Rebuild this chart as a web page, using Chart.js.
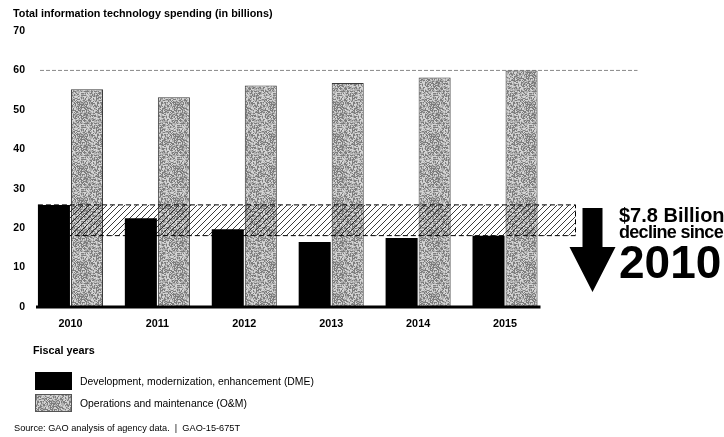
<!DOCTYPE html>
<html>
<head>
<meta charset="utf-8">
<script src="https://cdn.jsdelivr.net/npm/chart.js@4.4.1/dist/chart.umd.min.js"></script>
<style>
  body { margin: 0; background: #fff; font-family: "Liberation Sans", Arial, sans-serif; }
  #wrap { position: relative; width: 724px; height: 437px; overflow: hidden; }
  #c { position: absolute; left: 0; top: 0; }
  .t { position: absolute; white-space: nowrap; color: #000; line-height: 1; }
  .b { font-weight: bold; }
  .box { position: absolute; left: 35px; width: 37px; height: 18px; }
</style>
</head>
<body>
<div id="wrap">
  <canvas id="c" width="724" height="437"></canvas>
  <div class="t b" style="left:13px;top:8px;font-size:10.8px">Total information technology spending (in billions)</div>

  <div class="t b" style="left:619px;top:205px;font-size:20px">$7.8 Billion</div>
  <div class="t b" style="left:619px;top:223px;font-size:18px;letter-spacing:-0.7px">decline since</div>
  <div class="t b" style="left:619px;top:239px;font-size:46px;letter-spacing:0">2010</div>

  <div class="t b" style="left:33px;top:345px;font-size:10.8px">Fiscal years</div>
  <div class="box" id="box1" style="top:372px;background:#000"></div>
  <div class="t" style="left:80px;top:377px;font-size:10.4px">Development, modernization, enhancement (DME)</div>
  <div class="box" id="box2" style="top:394px;border:1px solid #555;box-sizing:border-box"></div>
  <div class="t" style="left:80px;top:399px;font-size:10.4px">Operations and maintenance (O&amp;M)</div>

  <div class="t" style="left:14px;top:424px;font-size:9.2px">Source: GAO analysis of agency data.&nbsp; |&nbsp; GAO-15-675T</div>
</div>
<script>
const years = ['2010', '2011', '2012', '2013', '2014', '2015'];
const dme = [25.9, 22.5, 19.7, 16.5, 17.5, 18.1];
const om = [55.2, 53.2, 56.2, 56.8, 58.2, 60.0];
const yTicks = [0, 10, 20, 30, 40, 50, 60, 70];
const capLine = 60;

// stippled grey texture for the O&M bars
function stipple() {
  const p = document.createElement('canvas');
  p.width = 32; p.height = 32;
  const g = p.getContext('2d');
  const img = g.createImageData(32, 32);
  let s = 12345;
  for (let i = 0; i < 32 * 32; i++) {
    s = (s * 1103515245 + 12345) & 0x7fffffff;
    const r = (s >> 8) % 100;
    const v = r < 35 ? 125 : (r < 70 ? 175 : 212);
    img.data[i * 4] = v; img.data[i * 4 + 1] = v; img.data[i * 4 + 2] = v; img.data[i * 4 + 3] = 255;
  }
  g.putImageData(img, 0, 0);
  return p;
}

function hatch() {
  const p = document.createElement('canvas');
  p.width = 6; p.height = 6;
  const g = p.getContext('2d');
  g.strokeStyle = 'rgba(0,0,0,0.85)';
  g.lineWidth = 0.9;
  g.beginPath();
  g.moveTo(-1, 7); g.lineTo(7, -1);
  g.moveTo(-1, 1); g.lineTo(1, -1);
  g.moveTo(5, 7); g.lineTo(7, 5);
  g.stroke();
  return p;
}

const ctx = document.getElementById('c').getContext('2d');
const greyTex = stipple();
const greyPattern = ctx.createPattern(greyTex, 'repeat');
const hatchPattern = ctx.createPattern(hatch(), 'repeat');
document.getElementById('box2').style.backgroundImage = 'url(' + greyTex.toDataURL() + ')';

const extras = {
  id: 'extras',
  beforeDatasetsDraw(chart) {
    const { ctx, chartArea, scales } = chart;
    const y = scales.y.getPixelForValue(capLine);
    ctx.save();
    ctx.strokeStyle = '#8a8a8a';
    ctx.lineWidth = 1;
    ctx.setLineDash([4, 2]);
    ctx.beginPath();
    ctx.moveTo(chartArea.left + 13, y);
    ctx.lineTo(chartArea.right + 89, y);
    ctx.stroke();
    ctx.restore();
  },
  afterDatasetsDraw(chart) {
    const { ctx, chartArea, scales } = chart;
    const bar0 = chart.getDatasetMeta(0).data[0];
    const x0 = bar0.x - bar0.width / 2;
    const x1 = chartArea.right + 27;
    const yTop = scales.y.getPixelForValue(dme[0]);
    const yBot = scales.y.getPixelForValue(dme[dme.length - 1]);
    ctx.save();
    ctx.fillStyle = hatchPattern;
    ctx.fillRect(x0 + bar0.width, yTop, x1 - x0 - bar0.width, yBot - yTop);
    ctx.strokeStyle = '#000';
    ctx.lineWidth = 1;
    ctx.setLineDash([5, 3]);
    ctx.beginPath();
    ctx.moveTo(x0, yTop); ctx.lineTo(x1, yTop); ctx.lineTo(x1, yBot); ctx.lineTo(x0 + bar0.width, yBot);
    ctx.stroke();
    ctx.setLineDash([]);

    // baseline
    const yb = scales.y.getPixelForValue(0);
    ctx.lineWidth = 3;
    ctx.beginPath();
    ctx.moveTo(chartArea.left + 9, yb);
    ctx.lineTo(chartArea.right - 8, yb);
    ctx.stroke();

    // down arrow
    const ax = chartArea.right + 44;
    const aTop = yTop + 3;
    ctx.fillStyle = '#000';
    ctx.beginPath();
    ctx.moveTo(ax - 10, aTop);
    ctx.lineTo(ax + 10, aTop);
    ctx.lineTo(ax + 10, aTop + 39);
    ctx.lineTo(ax + 23, aTop + 39);
    ctx.lineTo(ax, aTop + 84);
    ctx.lineTo(ax - 23, aTop + 39);
    ctx.lineTo(ax - 10, aTop + 39);
    ctx.closePath();
    ctx.fill();
    ctx.restore();
  }
};

new Chart(ctx, {
  type: 'bar',
  data: {
    labels: years,
    datasets: [
      {
        label: 'Development, modernization, enhancement (DME)',
        data: dme,
        backgroundColor: '#000',
        categoryPercentage: 0.76,
        barPercentage: 0.97
      },
      {
        label: 'Operations and maintenance (O&M)',
        data: om,
        backgroundColor: greyPattern,
        borderColor: '#3a3a3a',
        borderWidth: 1,
        categoryPercentage: 0.76,
        barPercentage: 0.97
      }
    ]
  },
  options: {
    responsive: false,
    animation: false,
    layout: { padding: { left: 0, right: 175.5, top: 31, bottom: 108 } },
    plugins: { legend: { display: false }, tooltip: { enabled: false } },
    scales: {
      x: {
        grid: { display: false, drawTicks: false },
        border: { display: false },
        ticks: { color: '#000', font: { family: 'Liberation Sans', size: 10.8, weight: 'bold' }, padding: 11 },
        afterFit(s) { s.height = 22; }
      },
      y: {
        min: 0,
        max: 70,
        afterBuildTicks(s) { s.ticks = yTicks.map(v => ({ value: v })); },
        grid: { display: false, drawTicks: false },
        border: { display: false },
        ticks: { color: '#000', font: { family: 'Liberation Sans', size: 10.5, weight: 'bold' }, padding: 2 },
        afterFit(s) { s.width = 27; }
      }
    }
  },
  plugins: [extras]
});
</script>
</body>
</html>
